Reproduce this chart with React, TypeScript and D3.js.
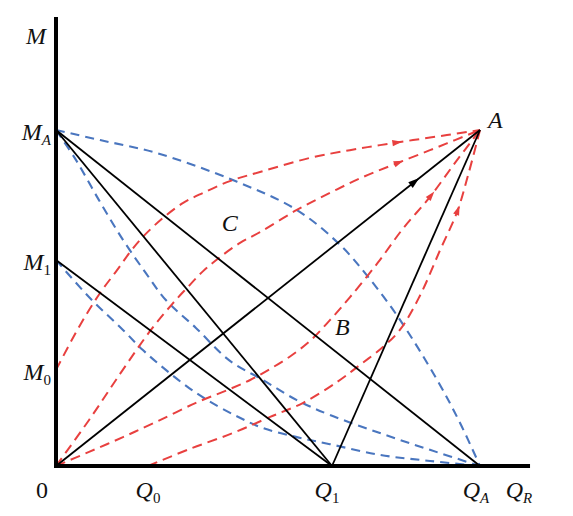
import React, { useEffect, useRef } from 'react';
import * as d3 from 'd3';

const W = 573;
const H = 516;

// key values (Q in units of Q_A, M in units of M_A)
const Q0 = 0.217, Q1 = 0.651, QA = 1, QR = 1.118;
const M0 = 0.286, M1 = 0.613, MA = 1, MTOP = 1.336;

// straight black lines [from, to]
const blackLines: [number, number][][] = [
  [[0, MA], [Q1, 0]],
  [[0, MA], [QA, 0]],
  [[0, M1], [Q1, 0]],
  [[0, 0], [QA, MA]],
  [[Q1, 0], [QA, MA]],
];
const blackArrowX = [null, null, null, 0.842, null];

// blue dashed curves
const blueOuter: [number, number][] = [
  [0, 1], [0.104, 0.97], [0.236, 0.932], [0.417, 0.851], [0.568, 0.762], [0.67, 0.658],
  [0.736, 0.563], [0.807, 0.443], [0.899, 0.256], [0.953, 0.128], [1, 0],
];
const blueInner: [number, number][] = [
  [0, 1], [0.047, 0.911], [0.101, 0.792], [0.158, 0.673], [0.212, 0.574], [0.259, 0.494],
  [0.33, 0.411], [0.408, 0.315], [0.488, 0.256], [0.568, 0.196], [0.646, 0.152],
  [0.764, 0.098], [0.882, 0.048], [1, 0],
];
const blueM1: [number, number][] = [
  [0, 0.613], [0.08, 0.5], [0.158, 0.405], [0.205, 0.345], [0.259, 0.286], [0.314, 0.232],
  [0.361, 0.193], [0.425, 0.149], [0.488, 0.113], [0.568, 0.086], [0.646, 0.065],
  [0.764, 0.033], [0.882, 0.015], [1, 0],
];

// red dashed curves ending in A
const redM0: [number, number][] = [
  [0, 0.286], [0.057, 0.42], [0.104, 0.515], [0.144, 0.583], [0.175, 0.637], [0.205, 0.682],
  [0.252, 0.738], [0.3, 0.783], [0.347, 0.813], [0.41, 0.848], [0.481, 0.875], [0.599, 0.917],
  [0.693, 0.94], [0.764, 0.955], [0.842, 0.97], [0.922, 0.985], [1, 1],
];
const redOHigh: [number, number][] = [
  [0, 0], [0.078, 0.137], [0.151, 0.274], [0.222, 0.402], [0.274, 0.482], [0.309, 0.53],
  [0.347, 0.58], [0.387, 0.622], [0.434, 0.664], [0.481, 0.696], [0.568, 0.762], [0.646, 0.813],
  [0.724, 0.86], [0.8, 0.899], [0.882, 0.94], [0.941, 0.97], [1, 1],
];
const redOLow: [number, number][] = [
  [0, 0], [0.078, 0.042], [0.158, 0.086], [0.236, 0.131], [0.33, 0.188], [0.41, 0.229],
  [0.458, 0.256], [0.505, 0.289], [0.552, 0.326], [0.599, 0.372], [0.646, 0.434], [0.693, 0.502],
  [0.759, 0.605], [0.818, 0.706], [0.882, 0.801], [0.941, 0.902], [1, 1],
];
const redQ0: [number, number][] = [
  [0.217, 0], [0.316, 0.051], [0.417, 0.098], [0.505, 0.146], [0.583, 0.188], [0.663, 0.25],
  [0.717, 0.301], [0.771, 0.354], [0.811, 0.405], [0.858, 0.506], [0.906, 0.643],
  [0.946, 0.756], [0.972, 0.866], [1, 1],
];
const redCurves = [redM0, redOHigh, redOLow, redQ0];
const redArrowX = [0.8, 0.804, 0.882, 0.946];
const blueCurves = [blueOuter, blueInner, blueM1];

// tick labels
const yLabels = [
  { v: MA, main: 'M', sub: 'A', subItalic: true },
  { v: M1, main: 'M', sub: '1', subItalic: false },
  { v: M0, main: 'M', sub: '0', subItalic: false },
];
const xLabels = [
  { v: Q0, main: 'Q', sub: '0', subItalic: false, dx: 0 },
  { v: Q1, main: 'Q', sub: '1', subItalic: false, dx: -5 },
  { v: QA, main: 'Q', sub: 'A', subItalic: true, dx: -4 },
  { v: QR, main: 'Q', sub: 'R', subItalic: true, dx: -11 },
];
const pointLabels = [
  { x: 1, y: 1, t: 'A', dx: 8, dy: -2 },
  { x: 0.417, y: 0.7, t: 'C', dx: -3, dy: 0 },
  { x: 0.68, y: 0.39, t: 'B', dx: -2, dy: 0 },
];

const RED = '#e8403f';
const BLUE = '#4a76bf';
const FONT = '"Liberation Serif", "Times New Roman", serif';

export default function App() {
  const ref = useRef<SVGSVGElement>(null);

  useEffect(() => {
    const svg = d3.select(ref.current);
    svg.selectAll('*').remove();

    const x = d3.scaleLinear().domain([0, 1]).range([56, 480]);
    const y = d3.scaleLinear().domain([0, 1]).range([466, 130]);

    const line = d3
      .line<[number, number]>()
      .x((d) => x(d[0]))
      .y((d) => y(d[1]))
      .curve(d3.curveCatmullRom.alpha(0.5));

    const arrowAt = (pathNode: SVGPathElement, xTarget: number, color: string, size: number) => {
      const total = pathNode.getTotalLength();
      const px = x(xTarget);
      let lo = 0, hi = total;
      for (let i = 0; i < 40; i++) {
        const mid = (lo + hi) / 2;
        if (pathNode.getPointAtLength(mid).x < px) lo = mid;
        else hi = mid;
      }
      const p = pathNode.getPointAtLength(lo);
      const a = pathNode.getPointAtLength(Math.max(0, lo - 3));
      const b = pathNode.getPointAtLength(Math.min(total, lo + 3));
      const ang = (Math.atan2(b.y - a.y, b.x - a.x) * 180) / Math.PI;
      svg
        .append('path')
        .attr('d', `M${size},0 L${-size * 0.4},${-size * 0.45} L${-size * 0.4},${size * 0.45} Z`)
        .attr('fill', color)
        .attr('transform', `translate(${p.x},${p.y}) rotate(${ang})`);
    };

    blueCurves.forEach((c) => {
      svg
        .append('path')
        .attr('d', line(c))
        .attr('fill', 'none')
        .attr('stroke', BLUE)
        .attr('stroke-width', 2.1)
        .attr('stroke-dasharray', '9,6');
    });

    redCurves.forEach((c, i) => {
      const p = svg
        .append('path')
        .attr('d', line(c))
        .attr('fill', 'none')
        .attr('stroke', RED)
        .attr('stroke-width', 2)
        .attr('stroke-dasharray', '10,6');
      arrowAt(p.node() as SVGPathElement, redArrowX[i], RED, 7);
    });

    blackLines.forEach((seg, i) => {
      const p = svg
        .append('path')
        .attr('d', d3.line<[number, number]>().x((d) => x(d[0])).y((d) => y(d[1]))(seg))
        .attr('fill', 'none')
        .attr('stroke', '#000')
        .attr('stroke-width', 1.8);
      const ax = blackArrowX[i];
      if (ax != null) arrowAt(p.node() as SVGPathElement, ax, '#000', 8);
    });

    // axes
    svg
      .append('line')
      .attr('x1', x(0)).attr('x2', x(0))
      .attr('y1', y(MTOP)).attr('y2', y(0) + 2)
      .attr('stroke', '#000').attr('stroke-width', 4);
    svg
      .append('line')
      .attr('x1', x(0) - 2).attr('x2', x(QR))
      .attr('y1', y(0)).attr('y2', y(0))
      .attr('stroke', '#000').attr('stroke-width', 4);

    const addLabel = (
      tx: number, ty: number, anchor: string, main: string, sub: string | null,
      subItalic: boolean, mainItalic = true,
    ) => {
      const t = svg
        .append('text')
        .attr('x', tx)
        .attr('y', ty)
        .attr('text-anchor', anchor)
        .attr('font-family', FONT)
        .attr('font-size', 24)
        .attr('fill', '#111');
      t.append('tspan').attr('font-style', mainItalic ? 'italic' : 'normal').text(main);
      if (sub) {
        t.append('tspan')
          .attr('font-style', subItalic ? 'italic' : 'normal')
          .attr('font-size', 15)
          .attr('dy', 5)
          .text(sub);
      }
    };

    addLabel(x(0) - 10, 44, 'end', 'M', null, false);
    addLabel(x(0) - 8, 498, 'end', '0', null, false, false);

    yLabels.forEach((l) => addLabel(x(0) - 5, y(l.v) + 10, 'end', l.main, l.sub, l.subItalic));
    xLabels.forEach((l) => addLabel(x(l.v) + l.dx, 498, 'middle', l.main, l.sub, l.subItalic));

    pointLabels.forEach((l) => {
      svg
        .append('text')
        .attr('x', x(l.x) + l.dx)
        .attr('y', y(l.y) + l.dy)
        .attr('text-anchor', l.t === 'A' ? 'start' : 'middle')
        .attr('font-family', FONT)
        .attr('font-style', 'italic')
        .attr('font-size', 24)
        .attr('fill', '#111')
        .text(l.t);
    });
  }, []);

  return (
    <svg
      ref={ref}
      width={W}
      height={H}
      style={{ position: 'absolute', left: 0, top: 0, background: '#fff' }}
    />
  );
}
